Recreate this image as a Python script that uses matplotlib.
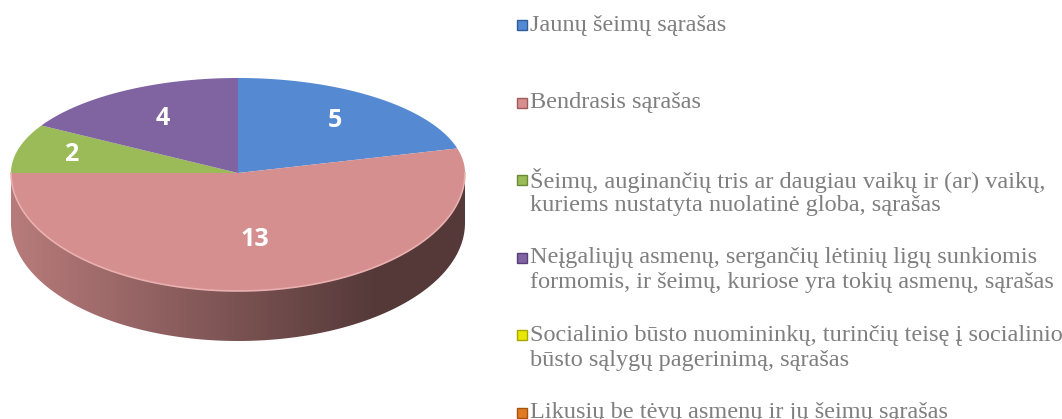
import numpy as np
import matplotlib
matplotlib.use('Agg')
import matplotlib.pyplot as plt
from matplotlib.patches import Polygon, Rectangle

# data
labels = [
    "Jaunų šeimų sąrašas",
    "Bendrasis sąrašas",
    "Šeimų, auginančių tris ar daugiau vaikų ir (ar) vaikų,\nkuriems nustatyta nuolatinė globa, sąrašas",
    "Neįgaliųjų asmenų, sergančių lėtinių ligų sunkiomis\nformomis, ir šeimų, kuriose yra tokių asmenų, sąrašas",
    "Socialinio būsto nuomininkų, turinčių teisę į socialinio\nbūsto sąlygų pagerinimą, sąrašas",
    "Likusių be tėvų asmenų ir jų šeimų sąrašas",
]
values = [5, 13, 2, 4, 0, 0]
colors = ["#558ad3", "#d68f8f", "#9bbb59", "#8064a2", "#e8e800", "#e07b22"]
edge_colors = ["#2f5c9a", "#a05a5a", "#6b8a35", "#573f78", "#a8a800", "#a8520f"]

# geometry of the tilted pie (pixels)
cx, cy = 238, 173
rx, ry_top, ry_bot, depth = 227, 95, 118, 50


def proj(t_deg, r=1.0, z=0.0):
    t = np.radians(t_deg)
    s = np.sin(t)
    ry = np.where(s > 0, ry_top, ry_bot)
    return cx + r * rx * np.cos(t), cy - r * ry * s + z * depth


fig = plt.figure(figsize=(10.62, 4.19), dpi=100)
ax = fig.add_axes([0, 0, 1, 1])
ax.set_xlim(0, 1062)
ax.set_ylim(419, 0)
ax.axis('off')

total = sum(values)
start = 90.0
wedges = []
for v, c in zip(values, colors):
    span = 360.0 * v / total
    wedges.append((start - span, start, c))
    start -= span

# side (front half, 180..360)
for a0, a1, c in wedges:
    b0, b1 = a0, a1
    while b1 <= 180:
        b0 += 360
        b1 += 360
    s0, s1 = max(b0, 180), min(b1, 360)
    if s1 <= s0:
        continue
    t = np.linspace(s0, s1, 200)
    xt, yt = proj(t)
    xb, yb = proj(t[::-1], z=1.0)
    side = Polygon(np.column_stack([np.r_[xt, xb], np.r_[yt, yb]]),
                   closed=True, facecolor='none', edgecolor='none')
    ax.add_patch(side)
    base = np.array(matplotlib.colors.to_rgb(c))
    grad_x = np.linspace(0, 1, 256)
    light = base * 0.86
    dark = base * 0.40
    shade = np.clip(grad_x / 0.8, 0, 1)[:, None]
    row = light[None, :] * (1 - shade) + dark[None, :] * shade
    img = ax.imshow(row[None, :, :], extent=[cx - rx, cx + rx, cy + ry_bot + depth, cy],
                    aspect='auto', zorder=1, interpolation='bilinear')
    img.set_clip_path(side)

# top face
for a0, a1, c in wedges:
    if a1 - a0 <= 0:
        continue
    t = np.linspace(a1, a0, 300)
    x, y = proj(t)
    ax.add_patch(Polygon(np.column_stack([np.r_[cx, x], np.r_[cy, y]]),
                         closed=True, facecolor=c, edgecolor='none', zorder=2))

# light rim on the front edge
t = np.linspace(180, 360, 300)
x, y = proj(t)
ax.plot(x, y, color='#eab0b0', lw=1.2, zorder=3)

# value labels
label_r = [0.7, 0.57, 0.76, 0.66, 0.7, 0.7]
for (a0, a1, c), v, r in zip(wedges, values, label_r):
    if v == 0:
        continue
    x, y = proj((a0 + a1) / 2, r=r)
    ax.text(x, y, str(v), color='white', fontsize=18, fontweight='bold',
            family='Open Sans', ha='center', va='center', zorder=4)

# legend
y0, step, line_h = 25, 77.5, 25
for i, (lab, c, ec) in enumerate(zip(labels, colors, edge_colors)):
    y = y0 + i * step
    ax.add_patch(Rectangle((517, y - 5), 10, 10, facecolor=c, edgecolor=ec, lw=1, zorder=3))
    for j, line in enumerate(lab.split("\n")):
        ax.text(530, y + j * line_h, line, color='#7f7f7f', fontsize=17.5,
                family='Liberation Serif', ha='left', va='center')

fig.savefig('out.png', dpi=100)
